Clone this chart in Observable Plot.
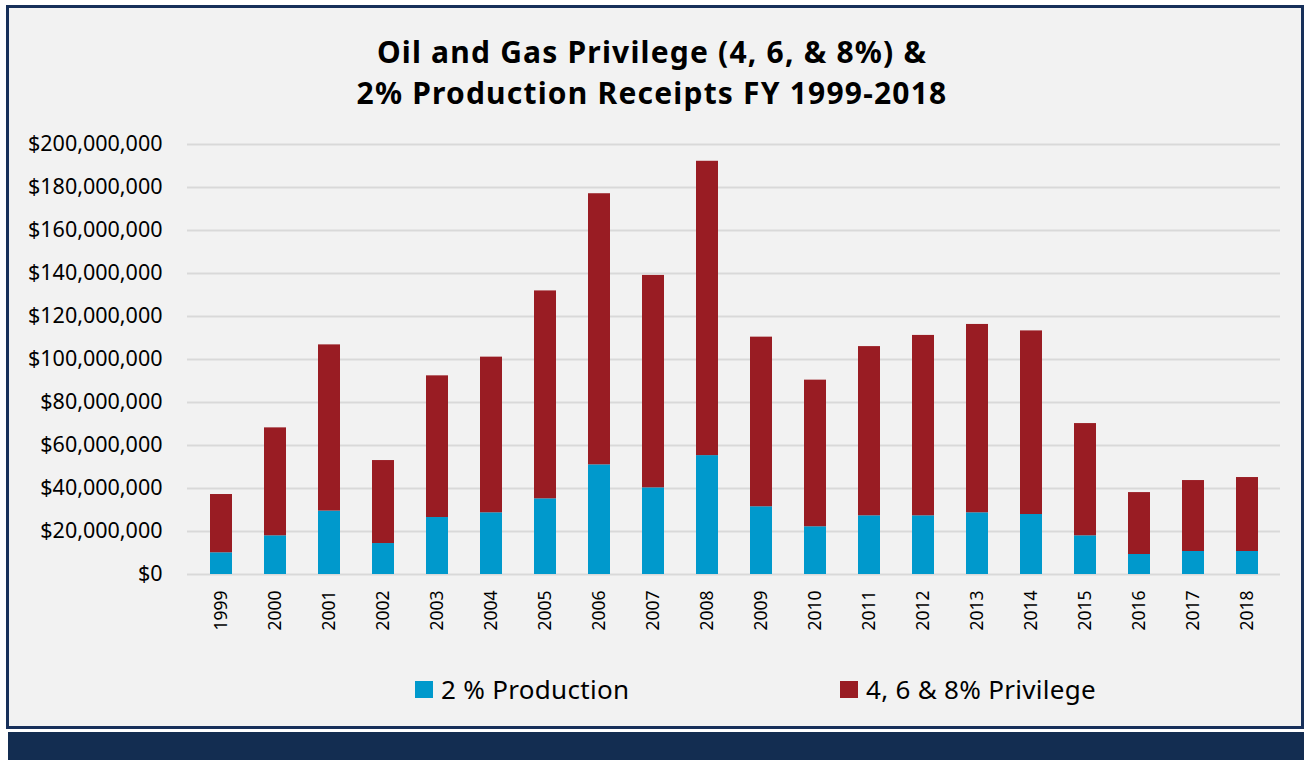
<!DOCTYPE html>
<html>
<head>
<meta charset="utf-8">
<script src="https://cdn.jsdelivr.net/npm/d3@7"></script>
<script src="https://cdn.jsdelivr.net/npm/@observablehq/plot@0.6"></script>
<style>
  html, body { margin: 0; padding: 0; background: #ffffff; }
  #root { position: relative; width: 1304px; height: 760px; overflow: hidden; font-family: "Noto Sans", sans-serif; }
  #frame { position: absolute; left: 6px; top: 5px; width: 1292px; height: 718px; border: 3px solid #17305a; background: #f2f2f2; }
  #band { position: absolute; left: 8px; top: 732px; width: 1296px; height: 28px; background: #132d51; }
  .title { position: absolute; left: 0; width: 1304px; height: 41px; text-align: center; font-weight: 700; font-size: 30px; letter-spacing: 1.2px; line-height: 41px; color: #000; white-space: nowrap; }
  #chart { position: absolute; left: 0; top: 120px; }
  .leg { position: absolute; top: 671px; display: flex; align-items: center; font-size: 26px; letter-spacing: 0.3px; color: #000; white-space: nowrap; }
  .sw { width: 18px; height: 17px; margin-right: 8px; }
</style>
</head>
<body>
<div id="root">
  <div id="frame"></div>
  <div id="band"></div>
  <div class="title" id="t1" style="top:30.5px"></div>
  <div class="title" id="t2" style="top:71.5px"></div>
  <div id="chart"></div>
  <div id="legend"></div>
</div>
<script>
const titleLines = ["Oil and Gas Privilege (4, 6, & 8%) &", "2% Production Receipts FY 1999-2018"];
const years = ["1999","2000","2001","2002","2003","2004","2005","2006","2007","2008","2009","2010","2011","2012","2013","2014","2015","2016","2017","2018"];
const seriesNames = ["2 % Production", "4, 6 & 8% Privilege"];
const seriesColors = ["#0099cc", "#991c23"];
// values in millions of dollars
const production = [10.1, 18.0, 29.5, 14.4, 26.5, 28.7, 35.2, 51.0, 40.3, 55.3, 31.5, 22.2, 27.3, 27.3, 28.7, 27.9, 18.0, 9.3, 10.7, 10.7];
const privilege  = [27.1, 50.2, 77.3, 38.6, 65.9, 72.4, 96.7, 126.1, 98.8, 136.9, 78.9, 68.2, 78.7, 83.9, 87.6, 85.4, 52.2, 28.8, 33.0, 34.4];
const yTicks = [0, 20, 40, 60, 80, 100, 120, 140, 160, 180, 200];

document.getElementById("t1").textContent = titleLines[0];
document.getElementById("t2").textContent = titleLines[1];

const data = [];
years.forEach((y, i) => {
  data.push({year: y, series: seriesNames[0], value: production[i] * 1e6});
  data.push({year: y, series: seriesNames[1], value: privilege[i] * 1e6});
});

const fmt = d3.format(",");
const plot = Plot.plot({
  width: 1304,
  height: 540,
  marginLeft: 187,
  marginRight: 24,
  marginTop: 24,
  marginBottom: 86,
  style: {background: "transparent", fontFamily: "Noto Sans, sans-serif", color: "#000"},
  x: {domain: years, paddingInner: 0.6, paddingOuter: 0.3, label: null},
  y: {domain: [0, 200e6], label: null},
  color: {domain: seriesNames, range: seriesColors},
  marks: [
    Plot.gridY(yTicks.map(t => t * 1e6), {stroke: "#d9d9d9", strokeOpacity: 1, strokeWidth: 2}),
    Plot.barY(data, Plot.stackY({x: "year", y: "value", fill: "series", order: seriesNames})),
    Plot.axisY(yTicks.map(t => t * 1e6), {tickSize: 0, tickPadding: 25, fontSize: 21.5, tickFormat: d => "$" + fmt(d), label: null}),
    Plot.axisX({tickSize: 0, tickPadding: 16, tickRotate: -90, fontSize: 17.5, label: null})
  ]
});
document.getElementById("chart").appendChild(plot);

const legend = document.getElementById("legend");
const legLeft = [415, 840];
seriesNames.forEach((name, i) => {
  const item = document.createElement("div");
  item.className = "leg";
  item.style.left = legLeft[i] + "px";
  const sw = document.createElement("div");
  sw.className = "sw";
  sw.style.background = seriesColors[i];
  const tx = document.createElement("span");
  tx.textContent = name;
  item.appendChild(sw);
  item.appendChild(tx);
  legend.appendChild(item);
});
</script>
</body>
</html>
